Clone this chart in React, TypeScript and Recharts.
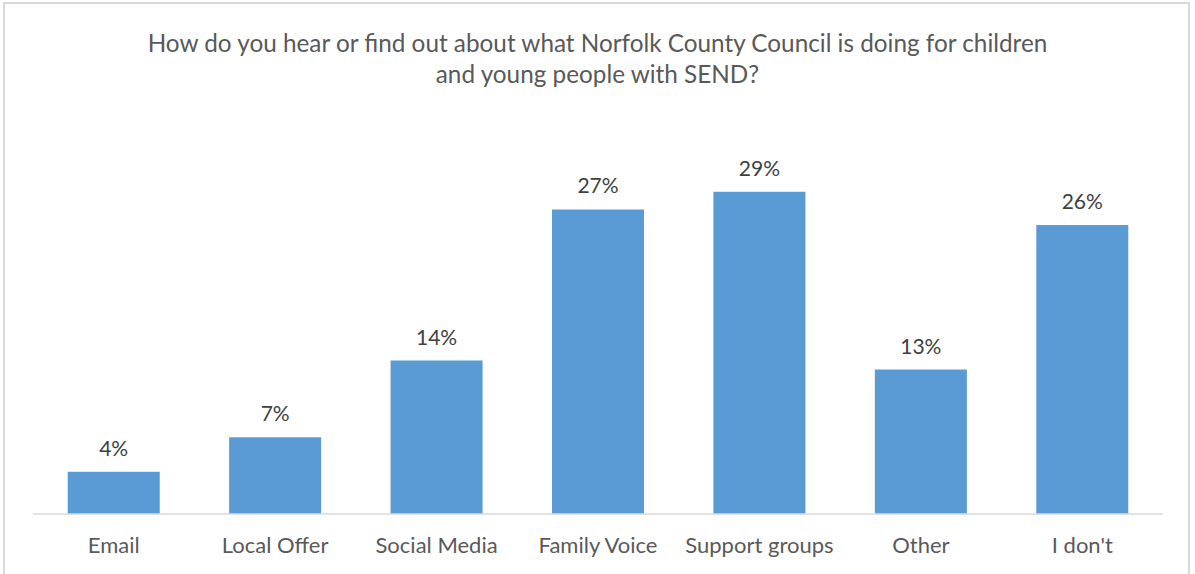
import { Bar, BarChart, LabelList, XAxis, YAxis } from "recharts";

const categories = ["Email", "Local Offer", "Social Media", "Family Voice", "Support groups", "Other", "I don't"];
const shares = [3.8, 6.9, 13.8, 27.4, 29.0, 13.0, 26.0];

const titleLines = [
  "How do you hear or find out about what Norfolk County Council is doing for children",
  "and young people with SEND?",
];

const font = "Lato, 'Open Sans', sans-serif";

export default function App() {
  const rows = categories.map((name, i) => ({ name, share: shares[i] }));

  return (
    <div style={{ position: "absolute", left: 0, top: 0, width: 1195, height: 574, background: "#fff", fontFamily: font }}>
      <div
        style={{
          position: "absolute",
          left: 3,
          top: 2,
          width: 1187,
          height: 580,
          border: "2px solid #d9d9d9",
          boxSizing: "border-box",
        }}
      />
      <div style={{ position: "absolute", left: 0, top: 27, width: 1195, textAlign: "center", color: "#595959", fontSize: 24.3, lineHeight: "31px" }}>
        {titleLines.map((line) => (
          <div key={line}>{line}</div>
        ))}
      </div>
      <BarChart
        width={1195}
        height={574}
        data={rows}
        margin={{ top: 125, right: 32, bottom: 0, left: 33 }}
        barCategoryGap="21.5%"
        style={{ position: "absolute", left: 0, top: 0 }}
      >
        <XAxis
          dataKey="name"
          height={60}
          axisLine={{ stroke: "#d9d9d9", strokeWidth: 1.5 }}
          tickLine={false}
          tick={{ fill: "#595959", fontSize: 22, fontFamily: font }}
          tickMargin={17}
          interval={0}
        />
        <YAxis hide domain={[0, 35]} />
        <Bar dataKey="share" fill="#5b9bd5" isAnimationActive={false}>
          <LabelList
            dataKey="share"
            position="top"
            offset={16}
            formatter={(v: number) => `${Math.round(v)}%`}
            style={{ fill: "#404040", fontSize: 21, fontFamily: font }}
          />
        </Bar>
      </BarChart>
    </div>
  );
}
